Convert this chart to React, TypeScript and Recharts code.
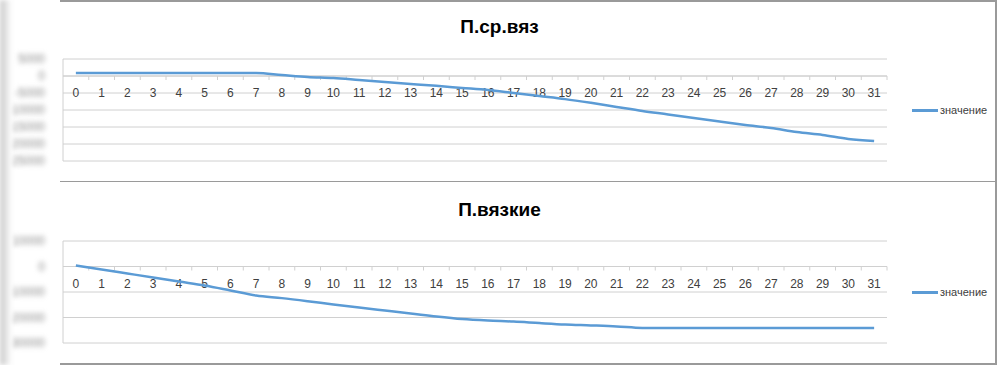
import React from "react"
import { LineChart, Line, XAxis, YAxis, CartesianGrid, ReferenceLine } from "recharts"

// days 0..31
const days = [
  0, 1, 2, 3, 4, 5, 6, 7, 8, 9, 10, 11, 12, 13, 14, 15,
  16, 17, 18, 19, 20, 21, 22, 23, 24, 25, 26, 27, 28, 29, 30, 31,
]

// П.ср.вяз
const srVyaz = [
  900, 900, 900, 900, 900, 900, 900, 900, 300, -300, -600, -1200, -1800, -2350, -2900, -3500,
  -4100, -5000, -5900, -6800, -7900, -9100, -10300, -11300, -12350, -13400, -14400, -15300, -16500, -17350, -18500, -19100,
]
const srVyazTicks = [5000, 0, -5000, -10000, -15000, -20000, -25000]

// П.вязкие
const vyazkie = [
  400, -1200, -2750, -4300, -5900, -7450, -9400, -11400, -12400, -13600, -14900, -16100, -17250, -18400, -19600, -20600,
  -21200, -21600, -22200, -22750, -23100, -23500, -24100, -24100, -24100, -24100, -24100, -24100, -24100, -24100, -24100, -24100,
]
const vyazkieTicks = [10000, 0, -10000, -20000, -30000]

const seriesName = "значение"
const LINE = "#5b9bd5"
const GRID = "#d0d0d0"
const FONT = "'Liberation Sans', Arial, sans-serif"

const BlurTick = (props: any) => {
  const { x, y, payload } = props
  return (
    <text x={x - 10} y={y} dy={4} textAnchor="end" fontSize={12} fill="#8a8a8a"
      fontFamily={FONT} style={{ filter: "blur(2.5px)" }}>
      {payload.value}
    </text>
  )
}

const CategoryAxis = (props: any) => {
  const { viewBox } = props
  if (!viewBox) return null
  const { x, y, width } = viewBox
  const step = width / days.length
  return (
    <g>
      {days.map((d, i) => (
        <g key={d}>
          <line x1={x + step * (i + 1)} x2={x + step * (i + 1)} y1={y} y2={y + 4} stroke={GRID} />
          <text x={x + step * (i + 0.5)} y={y + 21} textAnchor="middle" fontSize={12}
            fill="#404040" fontFamily={FONT}>
            {d}
          </text>
        </g>
      ))}
    </g>
  )
}

type PanelProps = {
  title: string
  values: number[]
  ticks: number[]
  top: number
  plotTop: number
  legendTop: number
}

function Panel({ title, values, ticks, top, plotTop, legendTop }: PanelProps) {
  const data = days.map((d, i) => ({ day: d, value: values[i] }))
  const h = 182
  return (
    <div style={{ position: "absolute", left: 0, top, width: 999, height: h }}>
      <div style={{
        position: "absolute", left: 0, right: 0, top: 16, textAlign: "center",
        fontFamily: FONT, fontWeight: "bold", fontSize: 19, color: "#000",
      }}>
        {title}
      </div>
      <LineChart width={999} height={h} data={data}
        margin={{ top: plotTop, right: 112, bottom: h - plotTop - 102, left: 0 }}>
        <CartesianGrid vertical={false} stroke={GRID} />
        <XAxis dataKey="day" scale="band" hide />
        <YAxis width={63} domain={[ticks[ticks.length - 1], ticks[0]]} ticks={ticks}
          interval={0} axisLine={{ stroke: GRID }} tickLine={false} tick={<BlurTick />} />
        <ReferenceLine y={0} stroke={GRID} label={(p: any) => <CategoryAxis {...p} />} />
        <Line type="monotone" dataKey="value" name={seriesName} stroke={LINE} strokeWidth={2.5}
          dot={false} isAnimationActive={false} />
      </LineChart>
      <div style={{ position: "absolute", left: 912, top: legendTop, display: "flex", alignItems: "center" }}>
        <div style={{ width: 26, height: 3, background: LINE }} />
        <span style={{ fontFamily: FONT, fontSize: 11, color: "#404040", marginLeft: 2 }}>{seriesName}</span>
      </div>
    </div>
  )
}

export default function App() {
  return (
    <div style={{ position: "absolute", left: 0, top: 0, width: 999, height: 365, background: "#fff", overflow: "hidden" }}>
      <Panel title="П.ср.вяз" values={srVyaz} ticks={srVyazTicks} top={0} plotTop={59} legendTop={104} />
      <Panel title="П.вязкие" values={vyazkie} ticks={vyazkieTicks} top={183} plotTop={58} legendTop={103} />
      {/* frame */}
      <div style={{ position: "absolute", left: 60, top: 0, width: 937, height: 182, borderTop: "2px solid #9a9a9a", borderRight: "2px solid #9a9a9a", borderBottom: "1px solid #9a9a9a", boxSizing: "border-box" }} />
      <div style={{ position: "absolute", left: 60, top: 182, width: 937, height: 183, borderRight: "2px solid #9a9a9a", borderBottom: "2px solid #9a9a9a", boxSizing: "border-box" }} />
      <div style={{ position: "absolute", left: 0, top: 0, width: 12, height: 365, background: "linear-gradient(to right, #c8c8c8, #ffffff)", filter: "blur(2px)" }} />
    </div>
  )
}
